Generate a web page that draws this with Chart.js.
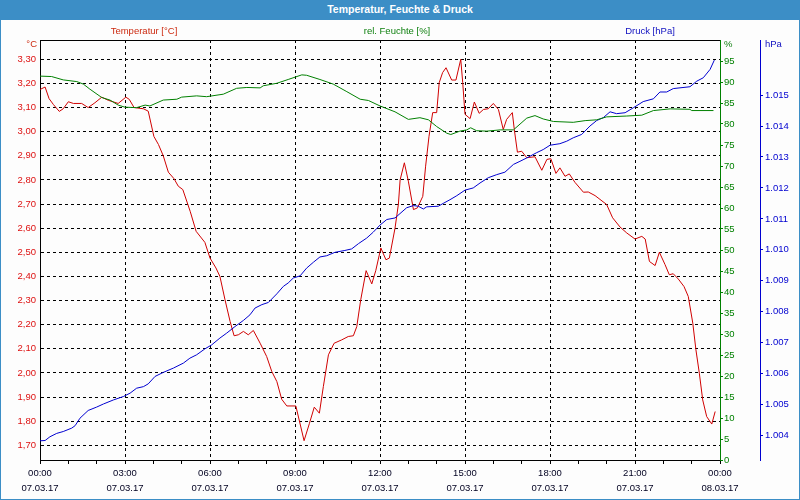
<!DOCTYPE html>
<html>
<head>
<meta charset="utf-8">
<title>Temperatur, Feuchte & Druck</title>
<script src="https://cdn.jsdelivr.net/npm/chart.js@4/dist/chart.umd.min.js"></script>
<style>
    body { margin: 0; background: #fff; }
    #wrap { position: relative; width: 800px; height: 500px; overflow: hidden; background: #fdfdfd; font-family: "Liberation Sans", Arial, sans-serif; }
    #chart { position: absolute; left: 0; top: 0; }
    #titlebar { position: absolute; left: 0; top: 0; width: 800px; height: 20px; background: #3c8ec6; color: #fff;
        font-weight: bold; font-size: 10.5px; line-height: 18px; text-align: center; }
    #rahmen { position: absolute; left: 0; top: 0; width: 798px; height: 498px; border: 1px solid #3c8ec6; pointer-events: none; }
    .lbl { position: absolute; font-size: 9.5px; line-height: 12px; white-space: nowrap; }
</style>
</head>
<body>
<div id="wrap">
    <canvas id="chart" width="800" height="500"></canvas>
    <div id="titlebar">Temperatur, Feuchte &amp; Druck</div>
    <div class="lbl" style="left:94px; width:100px; text-align:center; top:25px; color:#cc2a10;">Temperatur [°C]</div>
    <div class="lbl" style="left:347px; width:100px; text-align:center; top:25px; color:#108010;">rel. Feuchte [%]</div>
    <div class="lbl" style="left:600px; width:100px; text-align:center; top:25px; color:#1010c0;">Druck [hPa]</div>
    <div class="lbl" style="left:17px; width:20px; text-align:right; top:38px; color:#cc2a10;">°C</div>
    <div class="lbl" style="left:724px; top:38px; color:#108010;">%</div>
    <div class="lbl" style="left:765px; top:38px; color:#1010c0;">hPa</div>
    <div id="rahmen"></div>
</div>
<script>
// Messwerte 07.03.17 (Zeit in Stunden ab 00:00)
const tempHours = [0, 0.18, 0.32, 0.47, 0.68, 0.82, 1.00, 1.18, 1.47, 1.70, 1.94, 2.18, 2.41, 2.76, 3.03, 3.15, 3.32, 3.65, 3.82,
    4.02, 4.18, 4.35, 4.53, 4.73, 4.88, 5.04, 5.30, 5.51, 5.82, 6.00, 6.21, 6.35, 6.53, 6.71, 6.85, 7.00, 7.18, 7.35, 7.53,
    7.77, 8.00, 8.18, 8.36, 8.53, 8.71, 9.03, 9.32, 9.51, 9.68, 9.86, 10.00, 10.18, 10.38, 10.65, 10.88, 11.06, 11.18, 11.32,
    11.51, 11.71, 11.85, 12.03, 12.21, 12.33, 12.53, 12.65, 12.71, 12.86, 13.00, 13.18, 13.32, 13.51, 13.61, 13.73, 13.86,
    14.00, 14.09, 14.21, 14.33, 14.53, 14.68, 14.85, 14.92, 15.00, 15.18, 15.33, 15.50, 15.65, 15.82, 16.00, 16.18, 16.35,
    16.47, 16.67, 16.74, 16.85, 17.00, 17.18, 17.47, 17.71, 17.89, 18.03, 18.21, 18.35, 18.53, 18.68, 18.88, 19.18, 19.35,
    19.59, 20.00, 20.21, 20.47, 20.71, 21.00, 21.24, 21.36, 21.51, 21.71, 21.86, 22.06, 22.21, 22.35, 22.53, 22.73, 22.88,
    23.04, 23.15, 23.27, 23.39, 23.53, 23.71, 23.83];
const tempValues = [3.175, 3.185, 3.137, 3.113, 3.084, 3.095, 3.124, 3.117, 3.117, 3.10, 3.12, 3.143, 3.13, 3.117, 3.143, 3.134, 3.10, 3.095, 3.085,
    2.98, 2.947, 2.90, 2.832, 2.805, 2.774, 2.76, 2.67, 2.587, 2.541, 2.476, 2.435, 2.40, 2.303, 2.213, 2.154, 2.158, 2.172, 2.158, 2.176,
    2.123, 2.068, 2.006, 1.964, 1.891, 1.863, 1.863, 1.719, 1.791, 1.858, 1.833, 1.943, 2.075, 2.123, 2.137, 2.151, 2.154, 2.192, 2.303,
    2.424, 2.369, 2.424, 2.518, 2.469, 2.476, 2.60, 2.70, 2.80, 2.871, 2.795, 2.677, 2.684, 2.732, 2.857, 2.981, 3.079,
    3.079, 3.203, 3.245, 3.265, 3.214, 3.214, 3.30, 3.203, 3.072, 3.054, 3.123, 3.076, 3.092, 3.095, 3.117, 3.092, 3.009,
    3.051, 3.079, 3.009, 2.915, 2.919, 2.892, 2.896, 2.84, 2.885, 2.888, 2.827, 2.85, 2.815, 2.825, 2.79, 2.749, 2.75,
    2.735, 2.698, 2.643, 2.605, 2.58, 2.555, 2.566, 2.555, 2.462, 2.445, 2.50, 2.449, 2.407, 2.411, 2.389, 2.358, 2.317,
    2.206, 2.096, 1.999, 1.888, 1.819, 1.788, 1.84];

const feuchteHours = [0, 0.41, 0.82, 1.30, 1.53, 1.76, 2.18, 2.47, 2.76, 3.00, 3.41, 3.71, 3.88, 4.35, 4.83, 5.00, 5.53, 5.88, 6.47,
    6.94, 7.30, 7.77, 7.88, 8.36, 8.76, 9.24, 9.41, 9.88, 10.35, 10.83, 11.30, 11.59, 12.00, 12.53, 13.00, 13.41, 13.71, 14.00,
    14.36, 14.50, 14.82, 15.06, 15.20, 15.41, 15.77, 16.24, 16.71, 17.18, 17.47, 17.76, 18.12, 18.82, 19.24, 19.65, 20.00,
    20.71, 21.24, 21.65, 22.24, 22.94, 23.00, 23.77];
const feuchteValues = [91.4, 91.3, 90.5, 90.1, 89.5, 88.3, 86.3, 85.7, 84.5, 84.0, 83.9, 84.5, 84.3, 85.7, 85.9, 86.4, 86.7, 86.5, 87.1,
    88.5, 88.7, 88.6, 89.1, 89.7, 90.6, 91.7, 91.6, 90.6, 89.5, 87.7, 85.9, 85.6, 84.3, 82.9, 81.1, 81.5, 81.0, 79.4,
    77.8, 77.5, 78.3, 78.6, 79.1, 78.4, 78.3, 78.6, 78.6, 81.4, 82.0, 81.2, 80.6, 80.4, 80.8, 81.0, 81.7,
    81.9, 82.1, 83.2, 83.6, 83.5, 83.2, 83.2];

const druckHours = [0, 0.18, 0.35, 0.59, 0.82, 1.12, 1.24, 1.41, 1.70, 2.00, 2.24, 2.59, 2.94, 3.18, 3.41, 3.65, 3.82, 4.06, 4.35,
    4.71, 5.06, 5.29, 5.53, 5.82, 6.06, 6.35, 6.59, 6.88, 7.18, 7.41, 7.59, 7.83, 8.06, 8.36, 8.59, 8.76, 8.94, 9.18, 9.41,
    9.65, 9.88, 10.12, 10.41, 10.76, 11.00, 11.24, 11.53, 11.76, 12.00, 12.24, 12.53, 12.94, 13.18, 13.35, 13.53, 13.65,
    14.06, 14.23, 14.47, 14.71, 15.00, 15.29, 15.53, 15.82, 16.12, 16.41, 16.71, 16.94, 17.18, 17.53, 17.76, 18.00, 18.35,
    18.59, 18.82, 19.12, 19.41, 19.65, 19.88, 20.12, 20.35, 20.65, 20.94, 21.29, 21.65, 21.88, 22.12, 22.35, 22.94, 23.18,
    23.41, 23.65, 23.80];
const druckValues = [1003.83, 1003.84, 1003.96, 1004.07, 1004.13, 1004.24, 1004.32, 1004.56, 1004.81, 1004.92, 1005.02, 1005.15, 1005.26, 1005.37, 1005.53, 1005.58, 1005.67, 1005.91, 1006.04,
    1006.18, 1006.34, 1006.50, 1006.61, 1006.80, 1006.93, 1007.15, 1007.31, 1007.52, 1007.72, 1007.90, 1008.12, 1008.23, 1008.30, 1008.58, 1008.82, 1008.93, 1009.09, 1009.16, 1009.41,
    1009.60, 1009.77, 1009.81, 1009.92, 1009.98, 1010.03, 1010.20, 1010.38, 1010.57, 1010.80, 1010.98, 1011.03, 1011.36, 1011.43, 1011.41, 1011.32, 1011.39,
    1011.41, 1011.50, 1011.62, 1011.75, 1011.93, 1012.00, 1012.16, 1012.33, 1012.43, 1012.51, 1012.76, 1012.86, 1012.97, 1013.14, 1013.24, 1013.38, 1013.43,
    1013.51, 1013.62, 1013.73, 1014.00, 1014.18, 1014.27, 1014.46, 1014.40, 1014.43, 1014.59, 1014.79, 1014.88, 1015.10, 1015.10, 1015.21, 1015.27, 1015.45,
    1015.56, 1015.83, 1016.13];

// Beschriftung der x-Achse (alle 3 Stunden)
const tickHours = [0, 3, 6, 9, 12, 15, 18, 21, 24];
const tickTimes = ['00:00', '03:00', '06:00', '09:00', '12:00', '15:00', '18:00', '21:00', '00:00'];
const tickDates = ['07.03.17', '07.03.17', '07.03.17', '07.03.17', '07.03.17', '07.03.17', '07.03.17', '07.03.17', '08.03.17'];

const FARBEN = {
    temp: '#d00000',
    tempText: '#dd1010',
    feuchte: '#008000',
    druck: '#0000d0'
};
const SCHRIFT = { family: '"Liberation Sans", Arial, sans-serif', size: 9.5 };

function punkte(hours, values) {
    return hours.map((h, i) => ({ x: h, y: values[i] }));
}

// obere Rahmenlinie des Diagrammbereichs
const rahmenOben = {
    id: 'rahmenOben',
    afterDraw(chart) {
        const { ctx, chartArea } = chart;
        ctx.save();
        ctx.strokeStyle = '#000';
        ctx.lineWidth = 1;
        ctx.beginPath();
        ctx.moveTo(chartArea.left, chartArea.top + 0.5);
        ctx.lineTo(chartArea.right, chartArea.top + 0.5);
        ctx.stroke();
        ctx.restore();
    }
};

new Chart(document.getElementById('chart'), {
    type: 'line',
    data: {
        datasets: [
            { label: 'rel. Feuchte [%]', data: punkte(feuchteHours, feuchteValues), yAxisID: 'yFeuchte', borderColor: FARBEN.feuchte, borderWidth: 1, pointRadius: 0 },
            { label: 'Druck [hPa]', data: punkte(druckHours, druckValues), yAxisID: 'yDruck', borderColor: FARBEN.druck, borderWidth: 1, pointRadius: 0 },
            { label: 'Temperatur [°C]', data: punkte(tempHours, tempValues), yAxisID: 'yTemp', borderColor: FARBEN.temp, borderWidth: 1, pointRadius: 0 }
        ]
    },
    options: {
        responsive: false,
        animation: false,
        layout: { padding: { top: 40, left: 0, right: 0, bottom: 0 } },
        plugins: { legend: { display: false }, tooltip: { enabled: false } },
        scales: {
            x: {
                type: 'linear',
                min: 0,
                max: 24,
                afterFit: s => { s.height = 40; },
                border: { display: true, color: '#000', width: 1, dash: [3, 3] },
                grid: {
                    color: c => (c.tick && c.tick.value % 3 === 0 && c.tick.value > 0 && c.tick.value < 24) ? '#000' : 'rgba(0,0,0,0)',
                    tickColor: '#000',
                    tickLength: 4,
                    tickBorderDash: []
                },
                ticks: {
                    stepSize: 1,
                    autoSkip: false,
                    maxRotation: 0,
                    padding: 2,
                    color: '#000020',
                    font: { ...SCHRIFT, lineHeight: 1.6 },
                    callback: v => {
                        const i = tickHours.indexOf(v);
                        return i >= 0 ? [tickTimes[i], tickDates[i]] : '';
                    }
                }
            },
            yTemp: {
                type: 'linear',
                position: 'left',
                min: 1.639,
                max: 3.38,
                afterFit: s => { s.width = 40; },
                border: { display: true, color: '#000', width: 1, dash: [3, 3] },
                grid: { color: '#000', drawTicks: false, tickBorderDash: [] },
                ticks: {
                    stepSize: 0.1,
                    includeBounds: false,
                    padding: 4,
                    color: FARBEN.tempText,
                    font: SCHRIFT,
                    callback: v => v.toFixed(2).replace('.', ',')
                }
            },
            yFeuchte: {
                type: 'linear',
                position: 'right',
                weight: 0,
                min: 0,
                max: 100,
                afterFit: s => { s.width = 40; },
                border: { display: true, color: FARBEN.feuchte, width: 1 },
                grid: { drawOnChartArea: false, color: FARBEN.feuchte, tickLength: 3 },
                ticks: {
                    stepSize: 5,
                    padding: 1,
                    color: FARBEN.feuchte,
                    font: SCHRIFT,
                    callback: v => v === 100 ? null : String(v)
                }
            },
            yDruck: {
                type: 'linear',
                position: 'right',
                weight: 1,
                min: 1003.21,
                max: 1016.78,
                afterFit: s => { s.width = 40; },
                border: { display: true, color: FARBEN.druck, width: 1 },
                grid: { drawOnChartArea: false, color: FARBEN.druck, tickLength: 3 },
                ticks: {
                    stepSize: 1,
                    includeBounds: false,
                    padding: 2,
                    color: FARBEN.druck,
                    font: SCHRIFT,
                    callback: v => v > 1015 ? null : (v / 1000).toFixed(3)
                }
            }
        }
    },
    plugins: [rahmenOben]
});
</script>
</body>
</html>
